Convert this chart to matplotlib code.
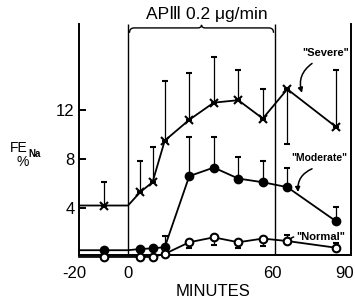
import numpy as np
import matplotlib.pyplot as plt
import matplotlib.transforms as mtransforms
from matplotlib.path import Path
from matplotlib.patches import PathPatch

plt.rcParams['font.family'] = ['Liberation Sans', 'DejaVu Sans']

# sampling times (minutes) and FE_Na (%) per group
minutes = [-10, 5, 10, 15, 25, 35, 45, 55, 65, 85]

severe = [4.2, 5.3, 6.1, 9.5, 11.2, 12.6, 12.8, 11.3, 13.7, 10.6]
severe_up = [1.9, 2.5, 2.9, 4.9, 3.8, 3.7, 2.5, 2.4, 0, 4.7]
severe_down = [0, 0, 0, 0, 0, 0, 0, 0, 4.5, 0]

moderate = [0.55, 0.65, 0.7, 0.8, 6.6, 7.3, 6.4, 6.1, 5.7, 2.9]
moderate_up = [0, 0, 0, 0.9, 3.2, 2.5, 1.8, 1.7, 1.6, 1.2]
moderate_down = [0] * 10

normal = [0.0, 0.0, 0.0, 0.25, 1.2, 1.6, 1.2, 1.5, 1.3, 0.75]
normal_up = [0, 0, 0, 0, 0, 0, 0, 0, 0.5, 0.35]
normal_down = [0, 0, 0, 0, 0.5, 0.6, 0.5, 0.6, 0, 0]

infusion = [0, 60]
xticks = [-20, 0, 60, 90]
yticks = [4, 8, 12]

fig = plt.figure(figsize=(3.55, 3.02), dpi=100)
ax = fig.add_axes([79 / 355, 47.5 / 302, 272 / 355, 230.25 / 302])
ax.set_xlim(-20, 91)
ax.set_ylim(0.2, 19.0)

for s in ['left', 'right', 'bottom']:
    ax.spines[s].set_linewidth(1.4)
ax.spines['top'].set_visible(False)

ax.vlines(infusion, 0.2, 19.0, color='k', lw=1.0)


def draw(y, up, down, marker, face):
    # baseline carried from the axis to the start of infusion
    xs = [-20] + minutes[:1] + [0] + minutes[1:]
    ys = [y[0], y[0], y[0]] + y[1:]
    ax.plot(xs, ys, color='k', lw=1.3, clip_on=False)
    ax.errorbar(minutes, y, yerr=[down, up], fmt=marker, color='k',
                mfc=face, mec='k', ms=5.5, mew=1.5, elinewidth=0.9,
                capsize=2.5, capthick=0.9, clip_on=False, zorder=3)


draw(severe, severe_up, severe_down, 'x', 'k')
draw(moderate, moderate_up, moderate_down, 'o', 'k')
draw(normal, normal_up, normal_down, 'o', 'white')

ax.set_xticks(xticks)
ax.set_xticklabels([str(v) for v in xticks])
ax.tick_params(axis='x', length=0, pad=8, labelsize=12)
# nudge the end labels as in the original
for lab, dx in zip(ax.get_xticklabels(), [-5, 0, -3, -4]):
    lab.set_transform(lab.get_transform() +
                      mtransforms.ScaledTranslation(dx / 100, 0,
                                                    fig.dpi_scale_trans))
ax.set_yticks(yticks)
ax.tick_params(axis='y', direction='in', length=5, width=1.4, pad=3,
               labelsize=12)

# brace over the infusion period
b0, b1 = infusion
mid = (b0 + b1) / 2
verts = [(b0 + 0.6, 18.3), (b0 + 0.6, 18.7), (b0 + 2.5, 18.7),
         (mid - 1.5, 18.7), (mid, 18.7), (mid, 18.95),
         (mid, 18.7), (mid + 1.5, 18.7),
         (b1 - 2.5, 18.7), (b1 - 0.6, 18.7), (b1 - 0.6, 18.3)]
codes = [Path.MOVETO, Path.CURVE3, Path.CURVE3,
         Path.LINETO, Path.CURVE3, Path.CURVE3,
         Path.CURVE3, Path.CURVE3,
         Path.LINETO, Path.CURVE3, Path.CURVE3]
ax.add_patch(PathPatch(Path(verts, codes), fill=False, lw=1.0,
                       clip_on=False))
ax.text(32, 19.85, 'AP\u2162 0.2 \u03bcg/min', ha='center', va='center',
        fontsize=12.5)

# group labels
arrow = dict(arrowstyle='-|>', lw=1.1, color='k', mutation_scale=7,
             shrinkA=0, shrinkB=0)
ax.text(80.8, 16.65, '"Severe"', ha='center', va='center', fontsize=8,
        fontweight='bold')
ax.annotate('', xy=(71.0, 13.4), xytext=(75.1, 15.8),
            arrowprops=dict(arrow, connectionstyle='arc3,rad=0.35'))
ax.text(78.0, 8.1, '"Moderate"', ha='center', va='center', fontsize=7.5,
        fontweight='bold')
ax.annotate('', xy=(69.4, 5.3), xytext=(75.1, 7.2),
            arrowprops=dict(arrow, connectionstyle='arc3,rad=0.35'))
ax.text(78.6, 1.63, '"Normal"', ha='center', va='center', fontsize=8,
        fontweight='bold')
ax.annotate('', xy=(65.6, 1.0), xytext=(67.6, 1.63),
            arrowprops=dict(arrow, connectionstyle='arc3,rad=0.4'))

# axis titles
fig.text(10 / 355, 1 - 148 / 302, 'FE', fontsize=10, va='center')
fig.text(28 / 355, 1 - 154 / 302, 'Na', fontsize=7, fontweight='bold',
         va='center')
fig.text(23 / 355, 1 - 162 / 302, '%', fontsize=10, ha='center',
         va='center')
fig.text(213 / 355, 1 - 292 / 302, 'MINUTES', fontsize=12, ha='center',
         va='center')

fig.savefig('out.png', dpi=100)
